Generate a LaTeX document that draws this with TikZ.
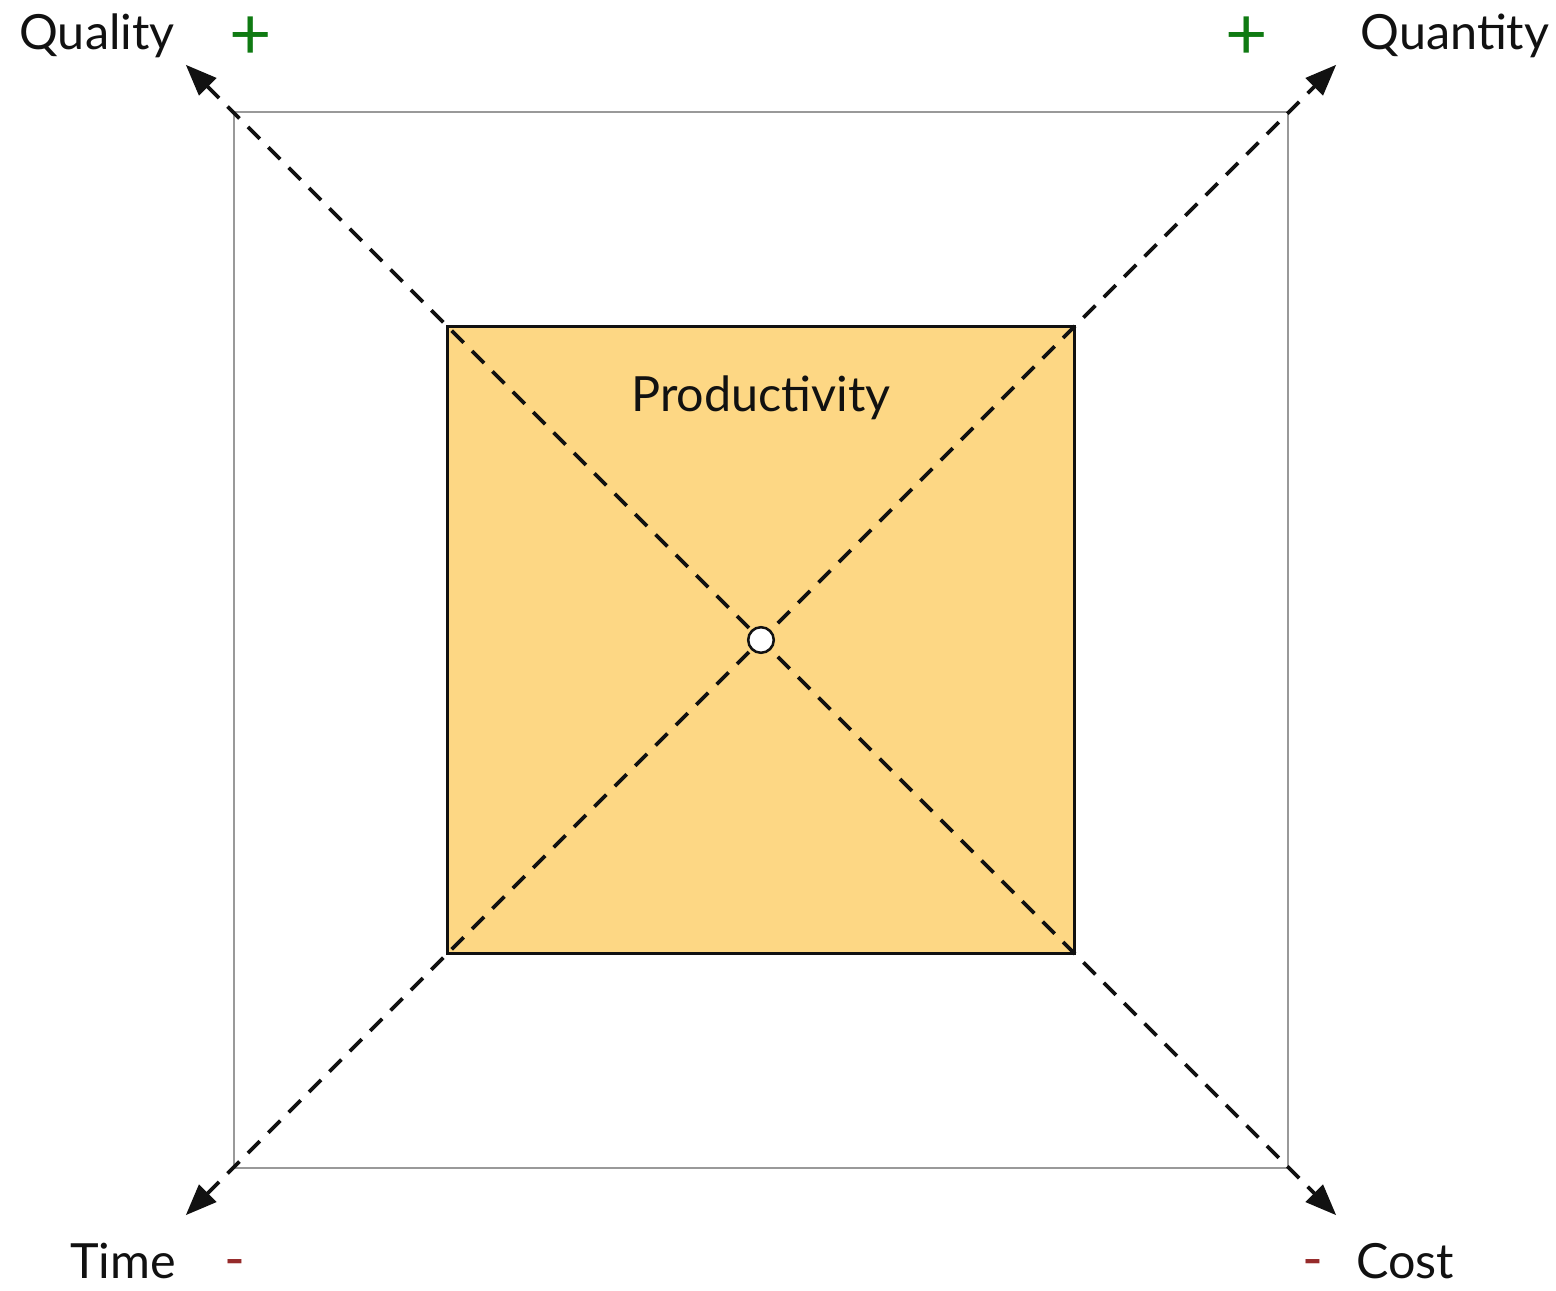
\documentclass[tikz,border=0pt]{standalone}
\usepackage{fontspec}
\setmainfont{Lato}
\usetikzlibrary{arrows.meta,positioning}
\definecolor{ink}{HTML}{111111}
\definecolor{frame}{HTML}{999999}
\definecolor{sand}{HTML}{FDD784}
\definecolor{plus}{HTML}{0F7A12}
\definecolor{minus}{HTML}{962B2B}

\begin{document}
\begin{tikzpicture}[>={Triangle[length=0.78cm,width=0.6cm]},
  lbl/.style={font=\fontsize{34.5}{40}\selectfont,text=ink,inner sep=0pt},
  sgn/.style={font=\fontsize{52}{56}\selectfont,inner sep=0pt},
  axis/.style={ink,line width=2.7pt,dash pattern=on 12pt off 8.5pt}]
\useasboundingbox (-19.025,-16.275) rectangle (19.875,16.0);
\draw[frame,line width=1.7pt] (-13.18,-13.2) rectangle (13.18,13.2);
\draw[ink,fill=sand,line width=1.9pt] (-7.84,-7.84) rectangle (7.84,7.84);
\node[lbl] (prod) at (0,6.05) {Productivity};
% axis ends
\coordinate (ql) at (-14.38,14.38);
\coordinate (qn) at (14.38,14.38);
\coordinate (tm) at (-14.38,-14.38);
\coordinate (co) at (14.38,-14.38);
\draw[axis,<->] (ql) -- (co);
\draw[axis,<->] (tm) -- (qn);
\node[circle,draw=ink,fill=white,line width=1.8pt,minimum size=0.64cm,inner sep=0pt] (mid) at (0,0) {};
% labels
\node[lbl] (qual) at (-16.6,15.1) {Quality};
\node[lbl] (quan) at (17.35,15.1) {Quantity};
\node[lbl] (time) at (-15.95,-15.52) {Time};
\node[lbl] (cost) at (16.1,-15.52) {Cost};
\node[sgn,text=plus] (pq) at (-12.75,15.05) {+};
\node[sgn,text=plus] (pn) at (12.13,15.05) {+};
\node[sgn,text=minus,font=\fontsize{40}{44}\selectfont] (mt) at (-13.15,-15.72) {-};
\node[sgn,text=minus,font=\fontsize{40}{44}\selectfont] (mc) at (13.8,-15.72) {-};
\end{tikzpicture}
\end{document}
